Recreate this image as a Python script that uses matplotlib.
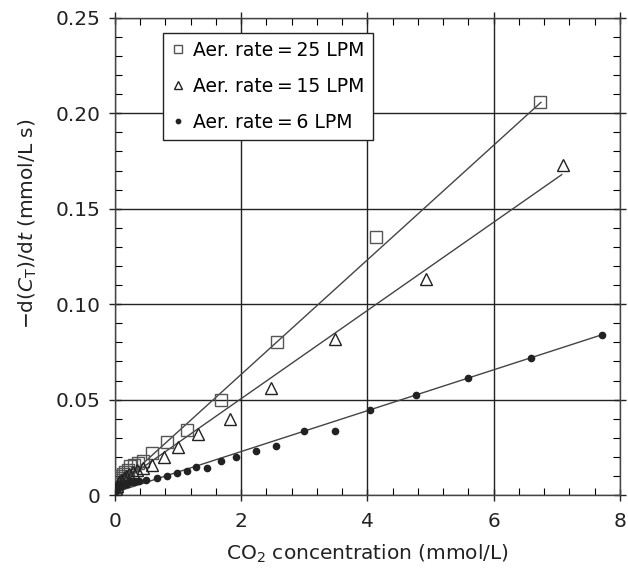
import matplotlib
matplotlib.use("Agg")
import matplotlib.pyplot as plt
import numpy as np
from matplotlib.ticker import MultipleLocator, FixedLocator

plt.rcParams['font.family'] = ['DejaVu Sans']
plt.rcParams['mathtext.fontset'] = 'dejavusans'

# ---- data ----
x25 = [0.02, 0.04, 0.06, 0.08, 0.10, 0.13, 0.16, 0.20, 0.24, 0.30, 0.36, 0.44,
       0.58, 0.82, 1.14, 1.68, 2.57, 4.14, 6.73]
y25 = [0.004, 0.006, 0.008, 0.009, 0.010, 0.011, 0.012, 0.013, 0.015, 0.016, 0.017, 0.018,
       0.022, 0.028, 0.034, 0.050, 0.080, 0.135, 0.206]

x15 = [0.02, 0.04, 0.07, 0.10, 0.14, 0.18, 0.23, 0.28, 0.35, 0.44, 0.58, 0.78,
       1.00, 1.32, 1.82, 2.47, 3.49, 4.93, 7.10]
y15 = [0.003, 0.005, 0.007, 0.008, 0.009, 0.010, 0.011, 0.012, 0.013, 0.014, 0.0157, 0.020,
       0.025, 0.032, 0.040, 0.056, 0.082, 0.113, 0.173]

x6 = [0.01, 0.02, 0.03, 0.05, 0.07, 0.09, 0.12, 0.15, 0.19, 0.24, 0.30, 0.38, 0.50,
      0.66, 0.82, 0.98, 1.14, 1.29, 1.46, 1.68, 1.92, 2.23, 2.55, 3.00, 3.48, 4.04,
      4.77, 5.60, 6.59, 7.71]
y6 = [0.002, 0.003, 0.004, 0.004, 0.005, 0.005, 0.006, 0.006, 0.006, 0.007, 0.007, 0.0075,
      0.0079, 0.0087, 0.010, 0.0114, 0.0127, 0.0149, 0.0143, 0.018, 0.0201, 0.0231, 0.0258,
      0.0337, 0.0337, 0.0445, 0.0524, 0.0611, 0.072, 0.0839]

labels = ['Aer. rate\u2009=\u200925 LPM', 'Aer. rate\u2009=\u200915 LPM', 'Aer. rate\u2009=\u20096 LPM']

# linear fit lines (slope, intercept, x range)
fit_slope = [0.0300, 0.0231, 0.0107]
fit_intercept = [0.0032, 0.0043, 0.0014]
fit_xmin = [0.05, 0.05, 0.05]
fit_xmax = [6.75, 7.08, 7.75]

xticks = [0, 2, 4, 6, 8]
yticks = [0, 0.05, 0.10, 0.15, 0.20, 0.25]
yticklabels = ['0', '0.05', '0.10', '0.15', '0.20', '0.25']

# ---- figure ----
fig = plt.figure(figsize=(6.28, 5.73), dpi=100)
ax = fig.add_axes([0.183, 0.136, 0.804, 0.833])

for i in range(3):
    xs = np.array([fit_xmin[i], fit_xmax[i]])
    ax.plot(xs, fit_intercept[i] + fit_slope[i] * xs, color='#444444', lw=1.0, zorder=2)

ax.plot(x25, y25, ls='none', marker='s', ms=8, mfc='none', mec='#555555', mew=1.0,
        label=labels[0], zorder=3)
ax.plot(x15, y15, ls='none', marker='^', ms=9, mfc='none', mec='#222222', mew=1.0,
        label=labels[1], zorder=3)
ax.plot(x6, y6, ls='none', marker='o', ms=4.5, mfc='#222222', mec='#222222',
        label=labels[2], zorder=3)

ax.set_xlim(0, 8)
ax.set_ylim(0, 0.25)
ax.xaxis.set_major_locator(FixedLocator(xticks))
ax.xaxis.set_minor_locator(MultipleLocator(0.4))
ax.yaxis.set_major_locator(FixedLocator(yticks))
ax.set_yticklabels(yticklabels)
ax.yaxis.set_minor_locator(MultipleLocator(0.01))

ax.grid(True, which='major', color='#222222', lw=1.0)
ax.tick_params(which='major', direction='inout', length=9, width=1.0, labelsize=14.5,
               top=True, right=True, colors='#222222')
ax.tick_params(axis='x', which='major', pad=8)
ax.tick_params(axis='y', which='major', pad=6)
ax.tick_params(which='minor', direction='in', length=5, width=0.8, top=True, right=True)
for s in ax.spines.values():
    s.set_color('#444444')
    s.set_linewidth(1.0)

ax.set_xlabel('CO$_2$ concentration (mmol/L)', fontsize=14.5, color='#222222', labelpad=8)
ax.set_ylabel(r'$-\mathrm{d}(C_\mathrm{T})/\mathrm{d}t$ (mmol/L s)', fontsize=14.5,
              color='#222222')
ax.yaxis.set_label_coords(-0.150, 0.568)

leg = ax.legend(loc='upper left', bbox_to_anchor=(0.095, 0.969), fontsize=13.5,
                borderaxespad=0, markerscale=0.7, handlelength=0.7, handletextpad=0.45,
                labelspacing=0.9, borderpad=0.45, fancybox=False, framealpha=1,
                edgecolor='#222222')
leg.get_frame().set_linewidth(1.0)

fig.savefig('out.png', dpi=100)
